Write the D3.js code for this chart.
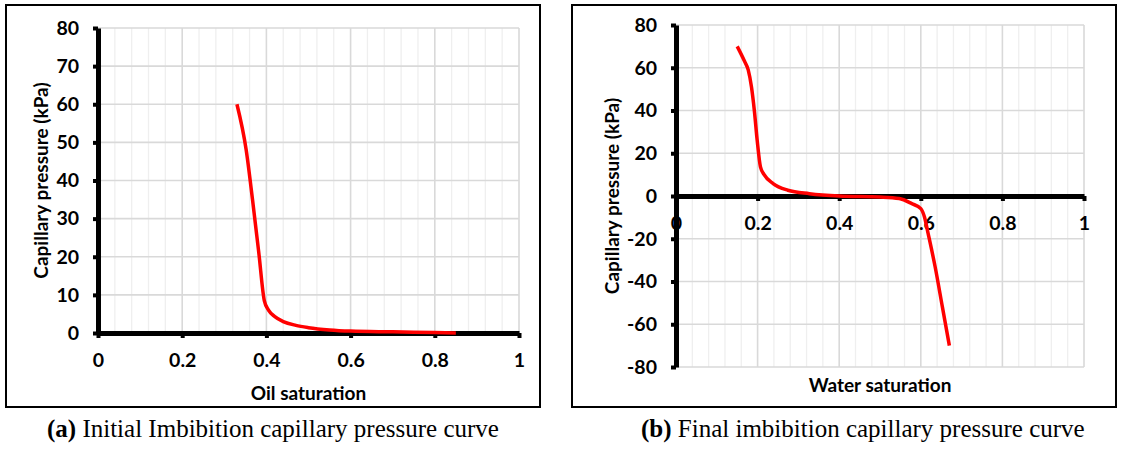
<!DOCTYPE html>
<html>
<head>
    <meta charset="utf-8">
    <title>Imbibition capillary pressure curves</title>
    <script src="https://d3js.org/d3.v7.min.js"></script>
    <style type="text/css">
        body { margin: 0; background: #fff; }
        .tick text { font-family: Lato, "Open Sans", sans-serif; font-weight: bold; font-size: 19.5px; fill: #000; }
        .axis-title { font-family: Lato, "Open Sans", sans-serif; font-weight: bold; font-size: 19px; fill: #000; }
        .caption { font-family: "Liberation Serif", "DejaVu Serif", serif; font-size: 25px; fill: #000; }
    </style>
</head>
<body>
<script type="text/javascript">
    // panel (a) - initial imbibition, oil saturation
    let oilSat   = [0.33, 0.352, 0.367, 0.382, 0.395, 0.405, 0.42, 0.44, 0.47, 0.5, 0.55, 0.6, 0.7, 0.8, 0.85];
    let pcInit   = [60, 48, 35, 21, 8.5, 6, 4.3, 3, 2, 1.4, 0.8, 0.5, 0.3, 0.1, 0];
    let xTicksA  = [0, 0.2, 0.4, 0.6, 0.8, 1];
    let yTicksA  = [0, 10, 20, 30, 40, 50, 60, 70, 80];

    // panel (b) - final imbibition, water saturation
    let waterSat = [0.15, 0.168, 0.177, 0.185, 0.192, 0.199, 0.207, 0.216, 0.238, 0.274, 0.327, 0.4, 0.5, 0.547, 0.578, 0.6, 0.609, 0.618, 0.635, 0.653, 0.67];
    let pcFinal  = [70, 63, 59, 51, 40, 26, 13.6, 10, 5.8, 2.7, 1.1, 0, -0.5, -1.2, -3.6, -5.9, -9.8, -17.6, -33, -52, -70];
    let xTicksB  = [0, 0.2, 0.4, 0.6, 0.8, 1];
    let yTicksB  = [-80, -60, -40, -20, 0, 20, 40, 60, 80];

    let minorX = d3.range(0, 1.0001, 0.04);

    let svg = d3.select("body").append("svg")
        .attr("width", 1122)
        .attr("height", 449);

    function panel(opt) {
        let g = svg.append("g");

        // frame
        g.append("rect")
            .attr("x", opt.box[0]).attr("y", opt.box[1])
            .attr("width", opt.box[2] - opt.box[0]).attr("height", opt.box[3] - opt.box[1])
            .attr("fill", "none").attr("stroke", "#000").attr("stroke-width", 2);

        let x = d3.scaleLinear().domain([0, 1]).range(opt.xr);
        let y = d3.scaleLinear().domain(opt.ydom).range(opt.yr);

        // grid
        g.append("g").selectAll("line").data(minorX).join("line")
            .attr("x1", d => x(d)).attr("x2", d => x(d))
            .attr("y1", y(opt.ydom[0])).attr("y2", y(opt.ydom[1]))
            .attr("stroke", (d, i) => i % 5 === 0 ? "#d9d9d9" : "#efefef")
            .attr("stroke-width", (d, i) => i % 5 === 0 ? 1.6 : 1.3);
        g.append("g").selectAll("line").data(opt.yTicks).join("line")
            .attr("x1", x(0)).attr("x2", x(1))
            .attr("y1", d => y(d)).attr("y2", d => y(d))
            .attr("stroke", "#d9d9d9").attr("stroke-width", 1.6);

        // curve
        let line = d3.line()
            .x(d => x(d[0])).y(d => y(d[1]))
            .curve(d3.curveMonotoneX);
        let pts = d3.zip(opt.xs, opt.ys);

        // x axis (on zero)
        let xa = g.append("g")
            .attr("transform", "translate(0," + y(0) + ")")
            .call(d3.axisBottom(x).tickValues(opt.xTicks).tickFormat(d3.format("")).tickSize(5).tickSizeOuter(0).tickPadding(15));
        xa.select(".domain").attr("stroke-width", 5).attr("stroke", "#000");
        xa.selectAll(".tick line").attr("stroke-width", 4);

        g.append("path")
            .datum(pts)
            .attr("d", line)
            .attr("fill", "none")
            .attr("stroke", "#ff0000")
            .attr("stroke-width", 3.5);

        // y axis
        let ya = g.append("g")
            .attr("transform", "translate(" + x(0) + ",0)")
            .call(d3.axisLeft(y).tickValues(opt.yTicks).tickSize(5).tickSizeOuter(0).tickPadding(14));
        ya.select(".domain").attr("stroke-width", 5).attr("stroke", "#000");
        ya.selectAll(".tick line").attr("stroke-width", 4);
        ya.selectAll(".tick text").text(d => d3.format("")(d).replace("−", "-"));

        // titles
        g.append("text").attr("class", "axis-title")
            .attr("x", (opt.xr[0] + opt.xr[1]) / 2).attr("y", opt.xTitleY)
            .attr("text-anchor", "middle").attr("dominant-baseline", "central")
            .text(opt.xTitle);
        g.append("text").attr("class", "axis-title")
            .attr("transform", "translate(" + opt.yTitleX + "," + (opt.yr[0] + opt.yr[1]) / 2 + ") rotate(-90)")
            .attr("text-anchor", "middle").attr("dominant-baseline", "central")
            .text("Capillary pressure (kPa)");

        // caption
        let cap = svg.append("text").attr("class", "caption")
            .attr("x", opt.capX).attr("y", 437);
        cap.append("tspan").attr("font-weight", "bold").text(opt.capTag);
        cap.append("tspan").text(" " + opt.capText);
    }

    panel({
        box: [6, 5, 540, 407],
        xr: [98, 519], ydom: [0, 80], yr: [333, 28],
        xs: oilSat, ys: pcInit, xTicks: xTicksA, yTicks: yTicksA,
        xTitle: "Oil saturation", xTitleY: 392, yTitleX: 40,
        capX: 47, capTag: "(a)", capText: "Initial Imbibition capillary pressure curve"
    });

    panel({
        box: [572, 5, 1116, 407],
        xr: [676, 1084], ydom: [-80, 80], yr: [367, 25],
        xs: waterSat, ys: pcFinal, xTicks: xTicksB, yTicks: yTicksB,
        xTitle: "Water saturation", xTitleY: 384, yTitleX: 611,
        capX: 641, capTag: "(b)", capText: "Final imbibition capillary pressure curve"
    });
</script>
</body>
</html>
